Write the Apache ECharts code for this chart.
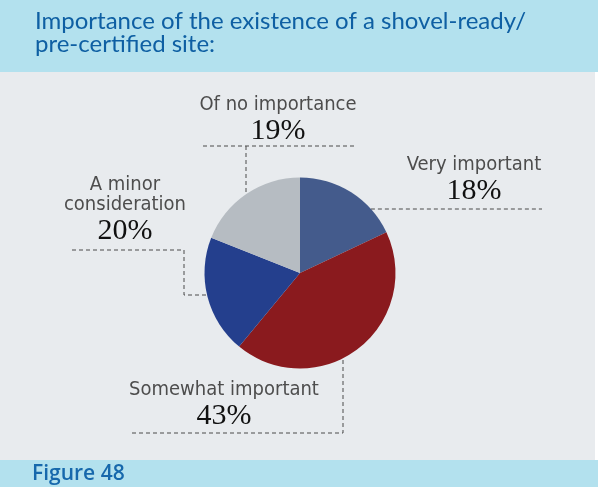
<!DOCTYPE html>
<html>
<head>
<meta charset="utf-8">
<script src="https://cdn.jsdelivr.net/npm/echarts@6/dist/echarts.min.js"></script>
<style>html,body{margin:0;padding:0;background:#fff}#c{width:599px;height:487px}</style>
</head>
<body>
<div id="c"></div>
<script>
// ---- data ----
var categories = ['Very important', 'Somewhat important', 'A minor\nconsideration', 'Of no importance'];
var values = [18, 43, 20, 19];
var colors = ['#445b8c', '#8a1a1e', '#243f8d', '#b6bcc2'];
var titleText = 'Importance of the existence of a shovel-ready/\npre-certified site:';
var footerText = 'Figure 48';

// ---- layout ----
var cx = 300, cy = 273, R = 95.5;
var labelPos = [[474, 155], [224, 380], [125, 175], [278, 95]];

var chart = echarts.init(document.getElementById('c'), null, {renderer: 'canvas'});

function dash(points) {
  return {type: 'polyline', silent: true, z: 5,
    shape: {points: points},
    style: {stroke: '#4a4a4a', lineWidth: 1, lineDash: [4, 3], fill: null}};
}
function edgeX(y, side) { return cx + side * Math.sqrt(R * R - (y - cy) * (y - cy)); }
function edgeY(x, side) { return cy + side * Math.sqrt(R * R - (x - cx) * (x - cx)); }

var data = categories.map(function (c, i) {
  return {name: c, value: values[i], itemStyle: {color: colors[i]}};
});

chart.setOption({
  animation: false,
  title: [{
    text: titleText, left: 35, top: 10, padding: 0,
    textStyle: {fontFamily: 'Lato', fontWeight: 'normal', fontSize: 24, lineHeight: 23, color: '#0e5fa3'}
  }, {
    text: footerText, left: 32, top: 463, padding: 0,
    textStyle: {fontFamily: 'Open Sans', fontWeight: 600, fontSize: 21, lineHeight: 22, color: '#1668ac'}
  }],
  graphic: [
    {type: 'rect', z: -10, silent: true, shape: {x: 0, y: 0, width: 598, height: 72}, style: {fill: '#b3e1ee'}},
    {type: 'rect', z: -10, silent: true, shape: {x: 0, y: 72, width: 595, height: 388}, style: {fill: '#e8ebee'}},
    {type: 'rect', z: -10, silent: true, shape: {x: 0, y: 460, width: 598, height: 27}, style: {fill: '#b3e1ee'}},
    dash([[edgeX(209, 1), 209], [542, 209]]),
    dash([[203, 146], [354, 146]]),
    dash([[246, 146], [246, edgeY(246, -1)]]),
    dash([[72, 250], [184, 250], [184, 295], [edgeX(295, -1), 295]]),
    dash([[132, 433], [343, 433], [343, edgeY(343, 1)]])
  ],
  series: [{
    type: 'pie',
    center: [cx, cy],
    radius: R,
    startAngle: 90,
    clockwise: true,
    data: data,
    itemStyle: {borderWidth: 0},
    emphasis: {disabled: true},
    labelLine: {show: false},
    label: {
      show: true,
      overflow: 'none',
      formatter: function (p) { return '{n|' + p.name + '}\n{p|' + p.value + '%}'; },
      align: 'center',
      rich: {
        n: {fontFamily: '"DejaVu Sans Condensed", sans-serif', fontSize: 20, lineHeight: 20, color: '#4d4d4d', align: 'center'},
        p: {fontFamily: '"Liberation Serif", serif', fontSize: 30, lineHeight: 32, color: '#111111', align: 'center'}
      }
    },
    labelLayout: function (params) {
      var pos = labelPos[params.dataIndex];
      return {x: pos[0], y: pos[1], align: 'center', verticalAlign: 'top', hideOverlap: false, moveOverlap: null};
    }
  }]
});
</script>
</body>
</html>
